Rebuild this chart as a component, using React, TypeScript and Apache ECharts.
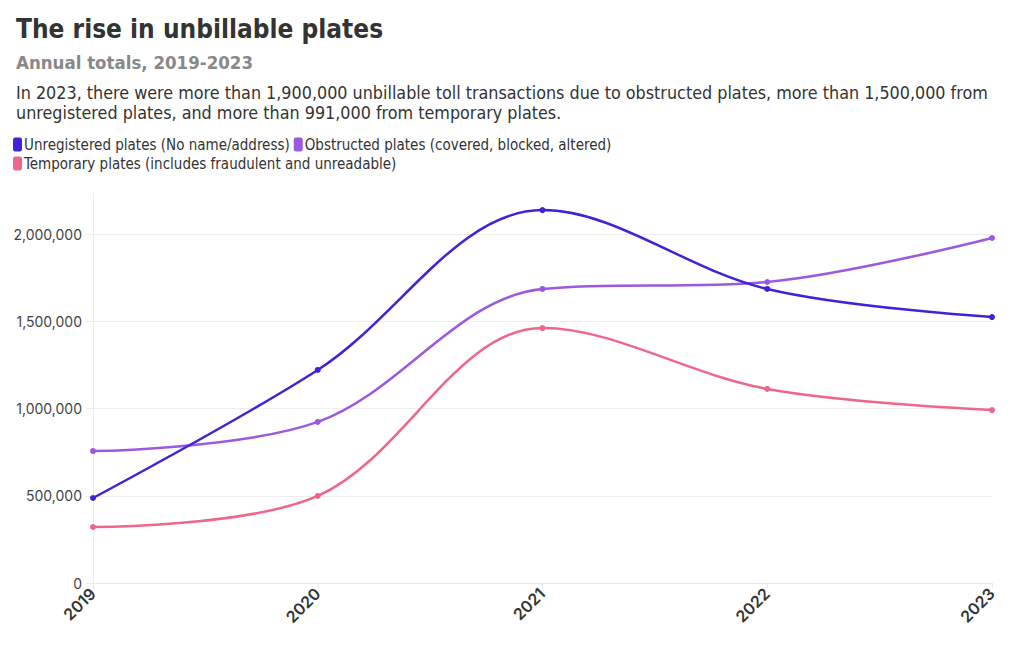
import React, { useEffect, useRef } from "react";
import * as echarts from "echarts";

const years = ["2019", "2020", "2021", "2022", "2023"];
const unregistered = [487000, 1221000, 2137000, 1685000, 1524000];
const obstructed = [756000, 923000, 1685000, 1725000, 1977000];
const temporary = [321000, 499000, 1461000, 1112000, 991000];
const seriesNames = [
  "Unregistered plates (No name/address)",
  "Obstructed plates (covered, blocked, altered)",
  "Temporary plates (includes fraudulent and unreadable)",
];
const colors = ["#3f22d9", "#9b59e0", "#f0668a"];

const titleText = "The rise in unbillable plates";
const subtitleText = "Annual totals, 2019-2023";
const descLines = [
  "In 2023, there were more than 1,900,000 unbillable toll transactions due to obstructed plates, more than 1,500,000 from",
  "unregistered plates, and more than 991,000 from temporary plates.",
];

const headFont = "'DejaVu Sans Condensed', 'Roboto', sans-serif";
const bodyFont = "'DejaVu Sans Condensed', 'Roboto', sans-serif";
const axisFont = "'Inter', 'Noto Sans', sans-serif";

export default function App() {
  const ref = useRef<HTMLDivElement>(null);
  useEffect(() => {
    if (!ref.current) return;
    const chart = echarts.init(ref.current, null, { renderer: "svg" });
    const data = [unregistered, obstructed, temporary];
    chart.setOption({
      animation: false,
      backgroundColor: "#ffffff",
      title: [
        {
          text: titleText,
          left: 3,
          top: 3,
          textStyle: { fontFamily: headFont, fontSize: 26, fontWeight: "bold", color: "#333333" },
        },
        {
          text: subtitleText,
          left: 3,
          top: 40,
          textStyle: { fontFamily: headFont, fontSize: 18.5, fontWeight: "bold", color: "#888888" },
        },
        {
          text: descLines.join("\n"),
          left: 3,
          top: 69,
          textStyle: { fontFamily: bodyFont, fontSize: 17.8, fontWeight: "normal", color: "#333333", lineHeight: 20 },
        },
      ],
      legend: {
        left: 0,
        top: 124,
        width: 640,
        itemWidth: 9,
        itemHeight: 14,
        itemGap: 4,
        icon: "roundRect",
        textStyle: { fontFamily: bodyFont, fontSize: 15, color: "#333333", padding: [0, 0, 0, -3] },
        data: seriesNames,
      },
      grid: { left: 85, right: 20, top: 185, bottom: 59, containLabel: false },
      xAxis: {
        type: "category",
        data: years,
        boundaryGap: false,
        axisLine: { show: true, lineStyle: { color: "#e6e6e6" } },
        axisTick: { show: true, alignWithLabel: true, length: 5, lineStyle: { color: "#e6e6e6" } },
        axisLabel: {
          rotate: 45,
          fontFamily: axisFont,
          fontSize: 16,
          fontWeight: 600,
          color: "#333333",
          margin: 8,
        },
        splitLine: { show: false },
      },
      yAxis: {
        type: "value",
        min: 0,
        max: 2235000,
        interval: 500000,
        axisLine: { show: true, lineStyle: { color: "#ececec" } },
        axisTick: { show: true, length: 7, lineStyle: { color: "#ececec" } },
        axisLabel: {
          showMaxLabel: false,
          fontFamily: axisFont,
          fontSize: 14,
          color: "#444444",
          margin: 11,
          formatter: (v: number) => v.toLocaleString("en-US"),
        },
        splitLine: {
          show: true,
          lineStyle: { color: ["#ededed", "#ededed", "#ededed", "#ededed", "#ededed", "transparent"] },
        },
      },
      series: seriesNames.map((name, i) => ({
        name,
        type: "line",
        data: data[i],
        smooth: 0.35,
        symbol: "circle",
        symbolSize: 6,
        showSymbol: true,
        lineStyle: { width: 2.5, color: colors[i] },
        itemStyle: { color: colors[i] },
        z: 3 - i,
      })),
    });
    return () => chart.dispose();
  }, []);
  return <div ref={ref} style={{ width: 1004, height: 634 }} />;
}
